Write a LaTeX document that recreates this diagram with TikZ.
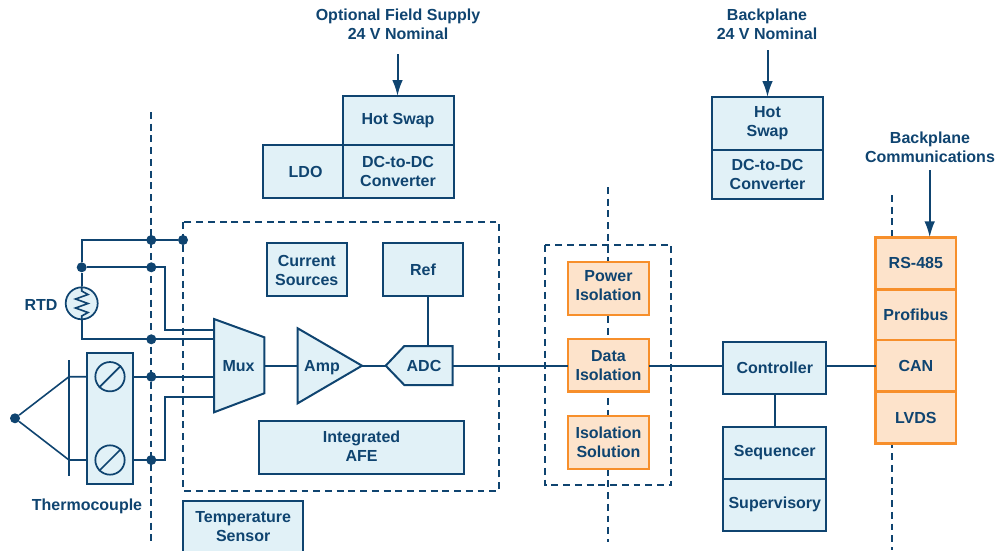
\documentclass[tikz,border=0pt]{standalone}
\usepackage{fontspec}
\setmainfont{Liberation Sans}
\usetikzlibrary{arrows.meta}
\definecolor{navy}{HTML}{0F4470}
\definecolor{paleblue}{HTML}{E1F1F7}
\definecolor{orangeline}{HTML}{F78F2B}
\definecolor{orangefill}{HTML}{FDE3CB}
\newcommand{\bx}[7][blubox]{% style, name, x1,y1,x2,y2, text
  \pgfmathsetmacro{\cxx}{(#3+#5)/2}\pgfmathsetmacro{\cyy}{(#4+#6)/2}
  \pgfmathsetmacro{\wdd}{abs(#5-#3)*0.75}\pgfmathsetmacro{\htt}{abs(#6-#4)*0.75}
  \node[#1,minimum width=\wdd pt,minimum height=\htt pt] (#2) at (\cxx,\cyy) {#7};
}
\tikzset{
  lbl/.style={font=\fontsize{12}{14.2}\selectfont\bfseries,text=navy,align=center,inner sep=0pt},
  blubox/.style={lbl,draw=navy,fill=paleblue,line width=1.5pt,inner sep=0pt,outer sep=0pt},
  orgbox/.style={lbl,draw=orangeline,fill=orangefill,line width=2.2pt,inner sep=0pt,outer sep=0pt},
  shp/.style={draw=navy,fill=paleblue,line width=1.5pt,line join=miter},
  wire/.style={draw=navy,line width=1.5pt},
  thin wire/.style={draw=navy,line width=1.2pt},
  feed/.style={draw=navy,line width=1.5pt,-{Latex[length=12pt,width=8pt]}},
  dashline/.style={draw=navy,line width=1.3pt,dash pattern=on 5.2pt off 3.6pt},
  dot/.style={circle,fill=navy,inner sep=0pt,minimum size=7.5pt},
  screw/.style={circle,draw=navy,fill=paleblue,line width=1.3pt,inner sep=0pt,minimum size=22pt},
}
\begin{document}
\begin{tikzpicture}[x=0.75pt,y=-0.75pt]
\useasboundingbox (0,0) rectangle (996,550);
% dashed boundaries
\draw[dashline] (151.3,112) -- (151.3,541);
\draw[dashline] (608.3,187) -- (608.3,542);
\draw[dashline] (892.3,195) -- (892.3,550);
\draw[dashline] (183,222) rectangle (499.3,490.7);
\draw[dashline] (545.3,245) rectangle (671.3,485.3);
% supply side
\node[lbl] (fieldlabel) at (398,24) {Optional Field Supply\\24 V Nominal};
\bx{hotswapa}{342.5}{96}{453.5}{145}{}
\node[lbl] (hotswapatext) at (398,120.5) {Hot Swap};
\bx{dcdca}{342.5}{145}{453.5}{198.3}{DC-to-DC\\Converter}
\bx{ldo}{262.7}{145}{342.5}{198.3}{\hspace*{4.5pt}LDO}
\node[lbl] (backlabel) at (767,24) {Backplane\\24 V Nominal};
\bx{hotswapb}{712}{97}{823}{149.5}{}
\node[lbl] (hotswapbtext) at (767.5,123) {Hot\\Swap};
\bx{dcdcb}{712}{149.5}{823}{198.7}{DC-to-DC\\Converter}
\node[lbl] (commslabel) at (930,147) {Backplane\\Communications};
% AFE
\bx{cursrc}{266.7}{243.3}{347}{296}{}
\node[lbl] (cursrctext) at (306.8,270.5) {Current\\Sources};
\bx{refbox}{382.7}{243.3}{463.3}{296}{Ref}
\bx{afe}{259}{421}{464}{473.7}{}
\node[lbl] (afetext) at (361.5,446) {Integrated\\AFE};
\bx{tempsens}{183}{500.7}{303.3}{552}{Temperature\\Sensor}
\draw[shp] (214,319) -- (264.3,337.3) -- (264.3,393.3) -- (214,412.3) -- cycle;
\node[lbl] (mux) at (238.5,366) {Mux};
\draw[shp] (297.7,328.3) -- (362,365.7) -- (297.7,403.3) -- cycle;
\node[lbl] (amp) at (322,367.5) {Amp};
\draw[shp] (385.7,365.7) -- (404.3,346) -- (452.7,346) -- (452.7,385) -- (404.3,385) -- cycle;
\node[lbl] (adc) at (424,366) {ADC};
\coordinate (muxout) at (264.3,365.7);
\coordinate (ampin) at (297.7,365.7);
\coordinate (ampout) at (362,365.7);
\coordinate (adcin) at (385.7,365.7);
\coordinate (adcout) at (452.7,365.7);
\coordinate (adctop) at (428,346);
\coordinate (muxa) at (214,330);
\coordinate (muxb) at (214,339.3);
\coordinate (muxc) at (214,376.7);
\coordinate (muxd) at (214,397.3);
% isolation
\bx[orgbox]{piso}{568}{262}{649}{315}{}
\node[lbl] (pisotext) at (608.5,285.5) {Power\\Isolation};
\bx[orgbox]{diso}{568}{339}{649}{391.7}{Data\\Isolation}
\bx[orgbox]{siso}{568}{416}{649}{469}{Isolation\\Solution}
% controller
\bx{ctrl}{723.3}{341.7}{826.3}{394}{Controller}
\bx{seq}{723.3}{426.7}{826.3}{479}{Sequencer}
\bx{sup}{723.3}{479}{826.3}{530.7}{Supervisory}
% comms
\bx[orgbox]{rs}{875.7}{237.3}{956}{289.3}{RS-485}
\bx[orgbox]{prof}{875.7}{289.3}{956}{340}{Profibus}
\bx[orgbox]{can}{875.7}{340}{956}{391.7}{CAN}
\bx[orgbox]{lvds}{875.7}{391.7}{956}{443.3}{LVDS}
% signal path
\coordinate (busout) at (826.3,365.7);
\draw[wire] (muxout) -- (ampin);
\draw[wire] (ampout) -- (adcin);
\draw[wire] (adctop) -- (adctop |- refbox.south);
\draw[wire] (adcout) -- (adcout -| diso.west);
\draw[wire] (adcout -| diso.east) -- (adcout -| ctrl.west);
\draw[wire] (busout) -- (busout -| can.west);
\draw[wire] (ctrl.south) -- (seq.north);
% arrows
\coordinate (fieldtail) at (397.5,54);
\coordinate (backtail) at (767.5,50);
\coordinate (commstail) at (929.7,170);
\draw[feed] (fieldtail) -- (fieldtail |- hotswapa.north);
\draw[feed] (backtail) -- (backtail |- hotswapb.north);
\draw[feed] (commstail) -- (commstail |- rs.north);
% RTD
\node[lbl] (rtdlabel) at (41,305) {RTD};
\node[screw,minimum size=24pt,fill=paleblue] (rtd) at (81.7,303.3) {};
\node[dot] (j1) at (151.3,240) {};
\node[dot] (j2) at (183,240) {};
\node[dot] (j3) at (81.7,267.3) {};
\node[dot] (j4) at (151.3,267.3) {};
\node[dot] (j5) at (151.3,339.3) {};
\coordinate (c1) at (81.7,240);
\coordinate (c2) at (81.7,339.3);
\coordinate (c3) at (165,267.3);
\coordinate (c4) at (165,330);
\draw[wire] (j2) -- (c1) -- (j3) -- (rtd.north);
\draw[wire] (rtd.south) -- (c2) -- (muxb);
\draw[wire] (j3) -- (c3) -- (c4) -- (muxa);
\draw[navy,line width=1.2pt,line join=miter] (rtd.north) -- (81.7,291) -- (88,294.5) -- (75.5,299) -- (88,303.5) -- (75.5,308) -- (88,312.5) -- (81.7,316) -- (rtd.south);
% thermocouple
\bx{block}{87}{352.7}{133.3}{484}{}
\node[screw] (s1) at (110,376.7) {};
\node[screw] (s2) at (110,460) {};
\draw[navy,line width=1.3pt] (s1.south west) -- (s1.north east);
\draw[navy,line width=1.3pt] (s2.south west) -- (s2.north east);
\node[dot] (j6) at (151.3,376.7) {};
\node[dot] (j7) at (151.3,460) {};
\node[dot] (tip) at (15,418.3) {};
\coordinate (b0) at (69,360);
\coordinate (b1) at (69,476);
\coordinate (t1) at (69,376.7);
\coordinate (t2) at (69,460);
\coordinate (c5) at (165,460);
\coordinate (c6) at (165,397.3);
\draw[wire] (b0) -- (b1);
\draw[thin wire] (tip) -- (t1) -- (t1 -| block.west);
\draw[thin wire] (tip) -- (t2) -- (t2 -| block.west);
\draw[wire] (t1 -| block.east) -- (muxc);
\draw[wire] (t2 -| block.east) -- (c5) -- (c6) -- (muxd);
\node[lbl] (tclabel) at (87,506.7) {Thermocouple};
\end{tikzpicture}
\end{document}
